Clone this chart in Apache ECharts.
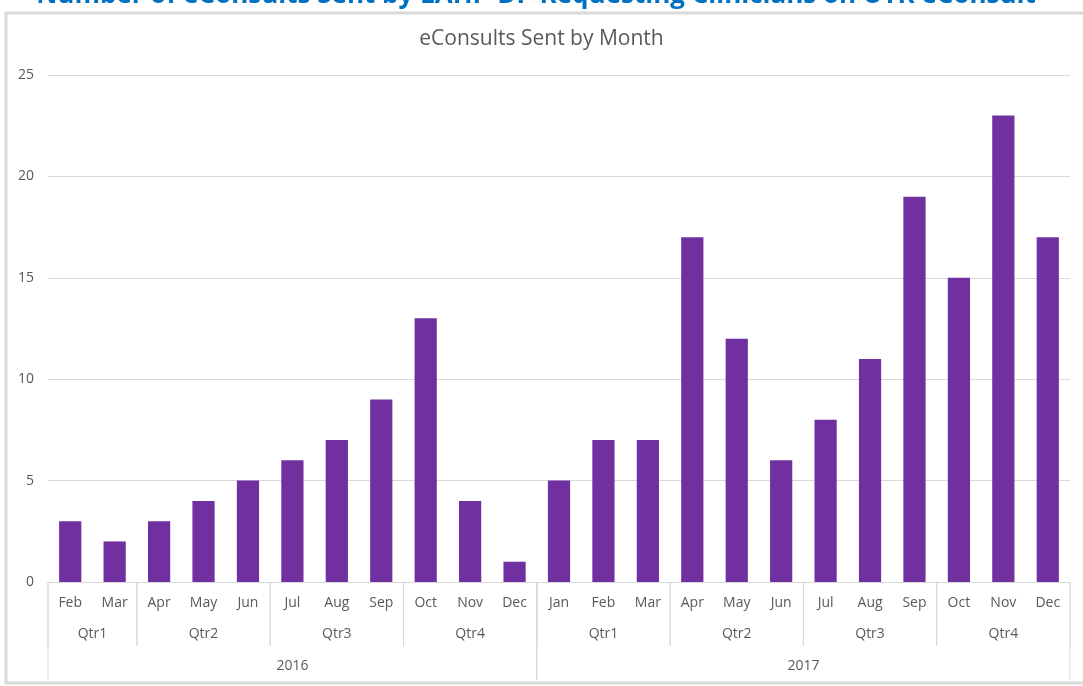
<!DOCTYPE html>
<html lang="en">
<head>
    <meta charset="UTF-8">
    <title>eConsults Sent by Month</title>
    <script src="https://cdn.jsdelivr.net/npm/echarts@6/dist/echarts.min.js"></script>
    <style>
        html, body { margin: 0; padding: 0; background: #fff; }
        #chart { width: 1083px; height: 686px; }
    </style>
</head>
<body>
    <div id="chart"></div>
    <script>
        // data
        var months = ['Feb', 'Mar', 'Apr', 'May', 'Jun', 'Jul', 'Aug', 'Sep', 'Oct', 'Nov', 'Dec',
            'Jan', 'Feb', 'Mar', 'Apr', 'May', 'Jun', 'Jul', 'Aug', 'Sep', 'Oct', 'Nov', 'Dec']
        var quarters = ['Qtr1', 'Qtr1', 'Qtr2', 'Qtr2', 'Qtr2', 'Qtr3', 'Qtr3', 'Qtr3', 'Qtr4', 'Qtr4', 'Qtr4',
            'Qtr1', 'Qtr1', 'Qtr1', 'Qtr2', 'Qtr2', 'Qtr2', 'Qtr3', 'Qtr3', 'Qtr3', 'Qtr4', 'Qtr4', 'Qtr4']
        var years = ['2016', '2016', '2016', '2016', '2016', '2016', '2016', '2016', '2016', '2016', '2016',
            '2017', '2017', '2017', '2017', '2017', '2017', '2017', '2017', '2017', '2017', '2017', '2017']
        var sent = [3, 2, 3, 4, 5, 6, 7, 9, 13, 4, 1,
            5, 7, 7, 17, 12, 6, 8, 11, 19, 15, 23, 17]
        var yTicks = [0, 5, 10, 15, 20, 25]

        // group consecutive equal labels -> [start, end, label, level]
        function groups(labels, parents, level) {
            var out = []
            var start = 0
            for (var i = 1; i <= labels.length; i++) {
                var cut = i === labels.length || labels[i] !== labels[i - 1] ||
                    (parents && parents[i] !== parents[i - 1])
                if (cut) {
                    out.push([start, i, labels[start], level])
                    start = i
                }
            }
            return out
        }
        var groupData = groups(quarters, years, 0).concat(groups(years, null, 1))

        var grey = '#595959'
        var lineGrey = '#d9d9d9'
        var chart = echarts.init(document.getElementById('chart'))

        var option = {
            animation: false,
            title: {
                text: 'eConsults Sent by Month',
                left: 'center',
                top: 24,
                textStyle: { color: grey, fontSize: 21, fontWeight: 'normal', fontFamily: 'Open Sans' }
            },
            graphic: [{
                type: 'rect',
                shape: { x: 6, y: 13, width: 1090, height: 670 },
                style: { fill: 'none', stroke: lineGrey, lineWidth: 3 },
                silent: true
            }, {
                type: 'text',
                x: 536,
                y: 9,
                style: {
                    text: 'Number of eConsults Sent by LAHP-DP Requesting Clinicians on UTR eConsult',
                    fill: '#0070c0',
                    font: 'bold 26px "Open Sans"',
                    align: 'center',
                    verticalAlign: 'bottom'
                }
            }],
            grid: { left: 48, right: 13, top: 75, bottom: 104 },
            xAxis: [{
                type: 'category',
                data: months,
                axisLine: { lineStyle: { color: lineGrey } },
                axisTick: { show: false },
                axisLabel: { color: grey, fontSize: 14, fontFamily: 'Open Sans', margin: 14, interval: 0 }
            }, {
                type: 'value',
                min: 0,
                max: months.length,
                show: false
            }],
            yAxis: {
                type: 'value',
                min: yTicks[0],
                max: yTicks[yTicks.length - 1],
                interval: 5,
                axisLine: { show: false },
                axisTick: { show: false },
                axisLabel: { color: grey, fontSize: 14, fontFamily: 'Open Sans', margin: 14 },
                splitLine: { lineStyle: { color: lineGrey } }
            },
            series: [{
                type: 'bar',
                data: sent,
                barWidth: '50%',
                itemStyle: { color: '#7030a0' }
            }, {
                // quarter / year rows under the month labels
                type: 'custom',
                xAxisIndex: 1,
                clip: false,
                silent: true,
                data: groupData,
                renderItem: function (params, api) {
                    var s = api.value(0)
                    var e = api.value(1)
                    var level = api.value(3)
                    var p0 = api.coord([s, 0])
                    var p1 = api.coord([e, 0])
                    var lineLen = level === 0 ? 64 : 98
                    var textOff = level === 0 ? 52 : 84
                    return {
                        type: 'group',
                        children: [{
                            type: 'line',
                            shape: { x1: p0[0], y1: p0[1], x2: p0[0], y2: p0[1] + lineLen },
                            style: { stroke: lineGrey, lineWidth: 1 }
                        }, {
                            type: 'line',
                            shape: { x1: p1[0], y1: p1[1], x2: p1[0], y2: p1[1] + lineLen },
                            style: { stroke: lineGrey, lineWidth: 1 }
                        }, {
                            type: 'text',
                            x: (p0[0] + p1[0]) / 2,
                            y: p0[1] + textOff,
                            style: {
                                text: groupData[params.dataIndex][2],
                                fill: grey,
                                font: '14px "Open Sans"',
                                align: 'center',
                                verticalAlign: 'middle'
                            }
                        }]
                    }
                }
            }]
        }
        chart.setOption(option)
    </script>
</body>
</html>
